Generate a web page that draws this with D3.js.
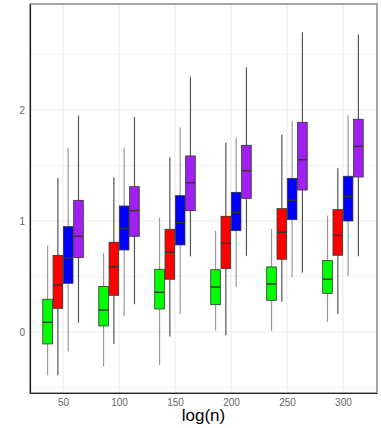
<!DOCTYPE html>
<html>
<head>
<meta charset="utf-8">
<script src="https://cdn.jsdelivr.net/npm/d3@7"></script>
<style>
  body { margin: 0; background: #fff; }
</style>
</head>
<body>
<div id="chart"></div>
<script>
//x positions (log(n) groups)
var groups = [50, 100, 150, 200, 250, 300];

//box stats per group: [lower whisker, q1, median, q3, upper whisker]
var greenStats = [
  [-0.39, -0.108, 0.087, 0.295, 0.78],
  [-0.31, 0.054, 0.198, 0.41, 0.71],
  [-0.297, 0.207, 0.357, 0.565, 1.03],
  [0.012, 0.246, 0.405, 0.561, 0.91],
  [0.009, 0.285, 0.432, 0.586, 0.928],
  [0.09, 0.348, 0.475, 0.643, 1.048]
];
var redStats = [
  [-0.39, 0.213, 0.423, 0.69, 1.387],
  [-0.108, 0.33, 0.588, 0.808, 1.393],
  [-0.042, 0.475, 0.718, 0.925, 1.574],
  [-0.03, 0.571, 0.799, 1.042, 1.705],
  [0.273, 0.655, 0.898, 1.111, 1.778],
  [0.162, 0.691, 0.871, 1.102, 1.474]
];
var blueStats = [
  [-0.177, 0.438, 0.667, 0.949, 1.66],
  [0.144, 0.739, 0.93, 1.135, 1.66],
  [0.162, 0.784, 0.985, 1.228, 1.844],
  [0.405, 0.913, 1.078, 1.258, 1.75],
  [0.493, 1.012, 1.186, 1.384, 1.90],
  [0.502, 1.0, 1.219, 1.403, 1.952]
];
var purpleStats = [
  [0.084, 0.67, 0.862, 1.186, 1.95],
  [0.25, 0.862, 1.093, 1.309, 1.937],
  [0.68, 1.093, 1.345, 1.586, 2.30],
  [0.687, 1.204, 1.453, 1.682, 2.385],
  [0.534, 1.279, 1.552, 1.889, 2.70],
  [0.682, 1.396, 1.673, 1.916, 2.68]
];

var xTicks = [50, 100, 150, 200, 250, 300];
var yTicks = [0, 1, 2];
var yMinor = [-0.5, 0.5, 1.5, 2.5];

//series styling
var series = [
  {stats: greenStats, fill: "#00ff00", whisker: "#999999"},
  {stats: redStats, fill: "#ff0000", whisker: "#555555"},
  {stats: blueStats, fill: "#0000ff", whisker: "#999999"},
  {stats: purpleStats, fill: "#a020f0", whisker: "#555555"}
];

var W = 381, H = 428;
var margin = {top: 4, right: 4, bottom: 35, left: 30};

var svg = d3.select("#chart").append("svg")
  .attr("width", W)
  .attr("height", H)
  .style("font-family", "Liberation Sans, Arial, Helvetica, sans-serif");

var x = d3.scaleLinear()
  .domain([20.5, 330.4])
  .range([margin.left, W - margin.right]);

var y = d3.scaleLinear()
  .domain([-0.55, 2.955])
  .range([H - margin.bottom, margin.top]);

//Grid
var grid = svg.append("g");
grid.selectAll(".ymin").data(yMinor).enter().append("line")
  .attr("x1", x.range()[0]).attr("x2", x.range()[1])
  .attr("y1", d => y(d)).attr("y2", d => y(d))
  .style("stroke", "#f0f0f0").style("stroke-width", 0.8);
grid.selectAll(".ymaj").data(yTicks).enter().append("line")
  .attr("x1", x.range()[0]).attr("x2", x.range()[1])
  .attr("y1", d => y(d)).attr("y2", d => y(d))
  .style("stroke", "#ebebeb").style("stroke-width", 1.1);
grid.selectAll(".xmaj").data(xTicks).enter().append("line")
  .attr("x1", d => x(d)).attr("x2", d => x(d))
  .attr("y1", y.range()[0]).attr("y2", y.range()[1])
  .style("stroke", "#ebebeb").style("stroke-width", 1.1);

//Dodge settings (data units)
var slot = 9.2, boxW = 8.6;

var plot = svg.append("g");
series.forEach(function(s, si) {
  var off = (si - 1.5) * slot;
  var g = plot.append("g");
  var rows = groups.map((gx, i) => ({gx: gx, st: s.stats[i]}));

  //whiskers
  g.selectAll(".whi").data(rows).enter().append("line")
    .attr("x1", d => x(d.gx + off)).attr("x2", d => x(d.gx + off))
    .attr("y1", d => y(d.st[0])).attr("y2", d => y(d.st[4]))
    .style("stroke", s.whisker).style("stroke-width", 1.2);

  //boxes
  g.selectAll(".box").data(rows).enter().append("rect")
    .attr("x", d => x(d.gx + off - boxW / 2))
    .attr("width", d => x(d.gx + off + boxW / 2) - x(d.gx + off - boxW / 2))
    .attr("y", d => y(d.st[3]))
    .attr("height", d => y(d.st[1]) - y(d.st[3]))
    .style("fill", s.fill)
    .style("stroke", "#333333").style("stroke-width", 0.8);

  //medians
  g.selectAll(".med").data(rows).enter().append("line")
    .attr("x1", d => x(d.gx + off - boxW / 2)).attr("x2", d => x(d.gx + off + boxW / 2))
    .attr("y1", d => y(d.st[2])).attr("y2", d => y(d.st[2]))
    .style("stroke", "#333333").style("stroke-width", 1.4);
});

//Panel border
svg.append("rect")
  .attr("x", x.range()[0]).attr("y", y.range()[1])
  .attr("width", x.range()[1] - x.range()[0])
  .attr("height", y.range()[0] - y.range()[1])
  .style("fill", "none").style("stroke", "#7f7f7f").style("stroke-width", 1.4);

//Axes
var xAxis = svg.append("g")
  .attr("transform", "translate(0," + y.range()[0] + ")")
  .call(d3.axisBottom(x).tickValues(xTicks).tickSize(0).tickPadding(6));
var yAxis = svg.append("g")
  .attr("transform", "translate(" + x.range()[0] + ",0)")
  .call(d3.axisLeft(y).tickValues(yTicks).tickFormat(d3.format("d")).tickSize(0).tickPadding(5));

[xAxis, yAxis].forEach(function(a) {
  a.select(".domain").style("stroke", "#222").style("stroke-width", 1.2);
  a.selectAll("text").style("fill", "#666").style("font-size", "10px")
    .style("font-family", "Liberation Sans, Arial, sans-serif");
});

//Axis title
svg.append("text")
  .attr("x", (x.range()[0] + x.range()[1]) / 2)
  .attr("y", 421)
  .style("text-anchor", "middle")
  .style("font-size", "17px")
  .style("fill", "#000")
  .text("log(n)");
</script>
</body>
</html>
